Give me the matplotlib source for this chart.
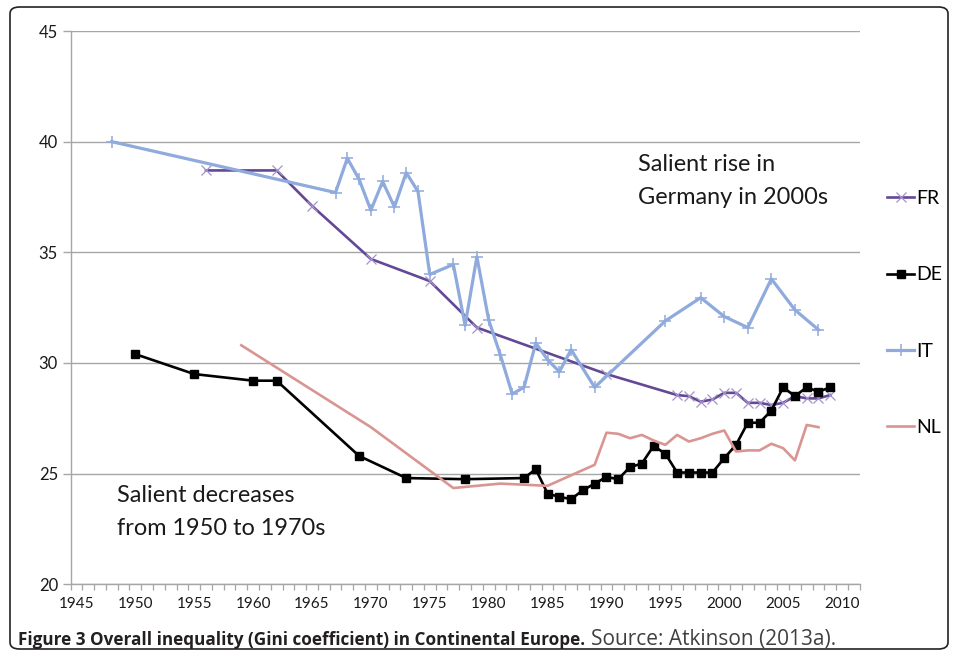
import numpy as np
import matplotlib
matplotlib.use("Agg")
import matplotlib.pyplot as plt
from matplotlib.patches import FancyBboxPatch
from matplotlib.ticker import FixedLocator

# Gini values (Atkinson 2013a)
fr_years = [1956, 1962, 1965, 1970, 1975, 1979, 1990, 1996, 1997, 1998, 1999, 2000,
            2001, 2002, 2003, 2004, 2005, 2006, 2007, 2008, 2009]
fr_gini = [38.7, 38.7, 37.1, 34.7, 33.7, 31.6, 29.5, 28.55, 28.5, 28.25, 28.35, 28.65,
           28.65, 28.2, 28.2, 28.1, 28.2, 28.5, 28.4, 28.4, 28.55]

de_years = [1950, 1955, 1960, 1962, 1969, 1973, 1978, 1983, 1984, 1985, 1986, 1987,
            1988, 1989, 1990, 1991, 1992, 1993, 1994, 1995, 1996, 1997, 1998, 1999,
            2000, 2001, 2002, 2003, 2004, 2005, 2006, 2007, 2008, 2009]
de_gini = [30.4, 29.5, 29.2, 29.2, 25.8, 24.8, 24.75, 24.8, 25.2, 24.1, 23.95, 23.85,
           24.25, 24.55, 24.85, 24.75, 25.3, 25.45, 26.25, 25.9, 25.05, 25.05, 25.05, 25.05,
           25.7, 26.3, 27.3, 27.3, 27.85, 28.9, 28.5, 28.9, 28.7, 28.9]

it_years = [1948, 1967, 1968, 1969, 1970, 1971, 1972, 1973, 1974, 1975, 1977, 1978,
            1979, 1980, 1981, 1982, 1983, 1984, 1985, 1986, 1987, 1989, 1995, 1998,
            2000, 2002, 2004, 2006, 2008]
it_gini = [40.0, 37.7, 39.25, 38.3, 36.9, 38.2, 37.05, 38.6, 37.75, 34.0, 34.45, 31.7,
           34.8, 31.95, 30.35, 28.6, 28.9, 30.9, 30.15, 29.6, 30.6, 28.9, 31.9, 32.95,
           32.1, 31.6, 33.8, 32.4, 31.5]

nl_years = [1959, 1970, 1977, 1981, 1985, 1989, 1990, 1991, 1992, 1993, 1994, 1995,
            1996, 1997, 1998, 1999, 2000, 2001, 2002, 2003, 2004, 2005, 2006, 2007, 2008]
nl_gini = [30.8, 27.1, 24.35, 24.55, 24.45, 25.4, 26.85, 26.8, 26.6, 26.75, 26.5, 26.3,
           26.75, 26.45, 26.6, 26.8, 26.95, 26.0, 26.05, 26.05, 26.35, 26.15, 25.6, 27.2, 27.1]

y_ticks = [20, 25, 30, 35, 40, 45]
x_labels = list(range(1945, 2011, 5))

W, H = 957, 657
fig = plt.figure(figsize=(W / 100, H / 100), dpi=100)
ax = fig.add_axes([70.5 / W, 1 - 584.3 / H, (859.7 - 70.5) / W, (584.3 - 31) / H])

grid_c = "#a6a6a6"
ax.plot(fr_years, fr_gini, color="#634896", lw=1.9, marker="x", ms=7, mew=0.9,
        mec="#a592cc", label="FR", zorder=3)
ax.plot(de_years, de_gini, color="black", lw=1.9, marker="s", ms=6.2,
        mec="black", mfc="black", label="DE", zorder=3)
ax.plot(it_years, it_gini, color="#8faadc", lw=2.3, marker="+", ms=8, mew=1.1,
        label="IT", zorder=3)
ax.plot(nl_years, nl_gini, color="#d99592", lw=1.9, label="NL", zorder=3)

ax.set_xlim(1944.5, 2011.5)
ax.set_ylim(20, 45)
ax.yaxis.set_major_locator(FixedLocator(y_ticks))
ax.xaxis.set_major_locator(FixedLocator(x_labels))
ax.xaxis.set_minor_locator(FixedLocator(np.arange(1944.5, 2012, 1.0)))
ax.grid(axis="y", color=grid_c, lw=1.0)
ax.set_axisbelow(True)
for s in ["top", "right"]:
    ax.spines[s].set_visible(False)
for s in ["left", "bottom"]:
    ax.spines[s].set_color(grid_c)
    ax.spines[s].set_linewidth(1.0)

ax.tick_params(axis="x", which="major", length=0, pad=9, labelsize=11)
ax.tick_params(axis="x", which="minor", length=4, color=grid_c, width=0.9)
ax.tick_params(axis="y", length=6, color=grid_c, width=1.0, pad=3, labelsize=12)
for lab in ax.get_xticklabels() + ax.get_yticklabels():
    lab.set_family("Lato")
    lab.set_color("#1a1a1a")

# annotations
note_kw = dict(fontsize=16.9, family="Lato", color="#1a1a1a", va="baseline")
fig.text(638 / W, 1 - 171 / H, "Salient rise in", **note_kw)
fig.text(638 / W, 1 - 204 / H, "Germany in 2000s", **note_kw)
fig.text(117 / W, 1 - 502 / H, "Salient decreases", **note_kw)
fig.text(117 / W, 1 - 535 / H, "from 1950 to 1970s", **note_kw)

leg = ax.legend(loc="upper left", bbox_to_anchor=(887 / W, 1 - 190 / H),
                bbox_transform=fig.transFigure, frameon=False, fontsize=14,
                labelspacing=3.05, handlelength=1.4, handletextpad=0.1,
                borderpad=0, borderaxespad=0)
for t in leg.get_texts():
    t.set_family("Lato")

# caption: bold lead then source, stretched to the reference extents
cap1 = fig.text(18 / W, 1 - 645 / H,
                "Figure 3 Overall inequality (Gini coefficient) in Continental Europe.",
                fontsize=12.0, family="Open Sans", weight="bold", color="#231f20",
                va="baseline")
fig.canvas.draw()
bb = cap1.get_window_extent()
cap1.set_fontsize(12.0 * (585 - 18) / bb.width)
fig.canvas.draw()
bb = cap1.get_window_extent()
cap2 = fig.text((bb.x1 + 6) / W, 1 - 645 / H, "Source: Atkinson (2013a).", fontsize=12.0,
                family="Open Sans", color="#404040", va="baseline")
fig.canvas.draw()
bb2 = cap2.get_window_extent()
cap2.set_fontsize(min(15.0, 12.0 * (858 - bb.x1 - 6) / bb2.width))

# outer rounded frame
frame = FancyBboxPatch((10 / W, 8 / H), (948 - 10) / W, (650 - 8) / H,
                       boxstyle="round,pad=0,rounding_size=0.01",
                       transform=fig.transFigure, fill=False, ec="#222222", lw=1.2)
fig.patches.append(frame)

fig.savefig("out.png", dpi=100)
